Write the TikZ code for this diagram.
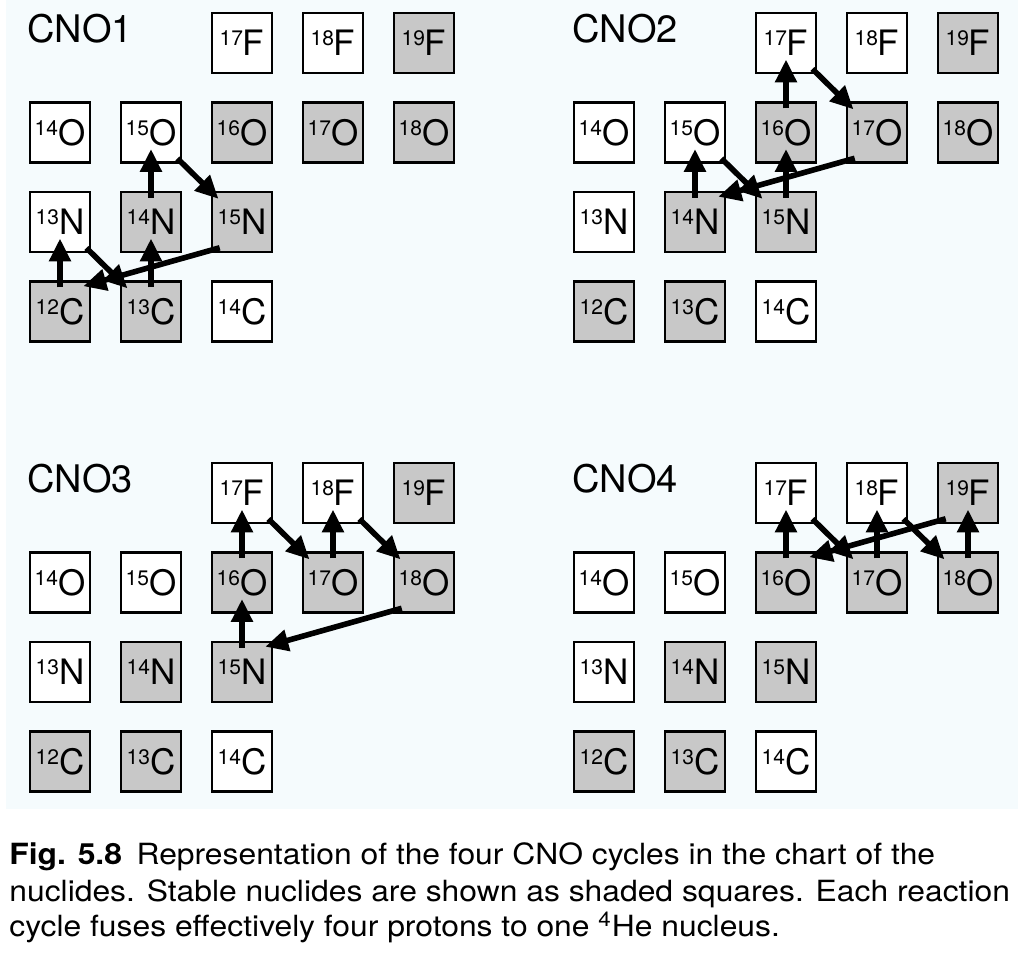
\documentclass[tikz,border=0pt]{standalone}
\usepackage{fontspec}
\setmainfont{TeX Gyre Heros}
\newfontfamily\capfont[FakeStretch=1.09]{TeX Gyre Heros}
\usetikzlibrary{arrows.meta}
\definecolor{chartbg}{HTML}{F5FBFD}
\definecolor{stablegray}{HTML}{C8C8C8}

% mass number raised to the top of the element symbol
\newcommand{\iso}[2]{\raisebox{5pt}{\fontsize{10.5}{10.5}\selectfont #1}#2}

% the fourteen nuclides of one chart, names prefixed by #1
\newcommand{\nuclides}[1]{%
  \foreach \mass/\elem/\col/\row/\kind in {12/C/1/4/stablebox, 13/C/2/4/stablebox, 14/C/3/4/unstablebox,
      13/N/1/3/unstablebox, 14/N/2/3/stablebox, 15/N/3/3/stablebox,
      14/O/1/2/unstablebox, 15/O/2/2/unstablebox, 16/O/3/2/stablebox, 17/O/4/2/stablebox, 18/O/5/2/stablebox,
      17/F/3/1/unstablebox, 18/F/4/1/unstablebox, 19/F/5/1/stablebox}
    \node[\kind] (#1\elem\mass) at ({91*\col-31}, {89.5*\row-46.5}) {\iso{\mass}{\elem}};%
}

\begin{document}
\begin{tikzpicture}[
    x=0.5pt, y=-0.5pt,
    box/.style={draw, line width=1.3pt, minimum size=30pt, inner sep=0pt, font=\fontsize{17.5}{17.5}\selectfont},
    stablebox/.style={box, fill=stablegray},
    unstablebox/.style={box, fill=white},
    title/.style={anchor=base west, inner sep=0pt, font=\fontsize{19}{19}\selectfont},
    react/.style={line width=2.8pt, -{Triangle[length=11.5pt, width=10.5pt]}},
    capture/.style={react, shorten <=12pt, shorten >=8.25pt},
    betadecay/.style={react, shorten <=18.5pt, shorten >=16.5pt},
    alphaout/.style={react},
    caption/.style={anchor=base west, inner sep=0pt, font=\capfont\fontsize{14.6}{18}\selectfont},
]
\useasboundingbox (0,0) rectangle (1034,961);
\fill[chartbg] (6,0) rectangle (1018,809);

% CNO1
\begin{scope}
\nuclides{p1}
\node[title] (t1) at (27,43) {CNO1};
\draw[capture] (p1C12.center) -- (p1N13.center);
\draw[betadecay] (p1N13.center) -- (p1C13.center);
\draw[capture] (p1C13.center) -- (p1N14.center);
\draw[capture] (p1N14.center) -- (p1O15.center);
\draw[betadecay] (p1O15.center) -- (p1N15.center);
\draw[alphaout] ([xshift=4.5pt,yshift=2.75pt]p1N15.south west) -- ([xshift=-4pt,yshift=-3pt]p1C12.north east);
\end{scope}

% CNO2
\begin{scope}[shift={(544,0)}]
\nuclides{p2}
\node[title] (t2) at (28,43) {CNO2};
\draw[capture] (p2N14.center) -- (p2O15.center);
\draw[betadecay] (p2O15.center) -- (p2N15.center);
\draw[capture] (p2N15.center) -- (p2O16.center);
\draw[capture] (p2O16.center) -- (p2F17.center);
\draw[betadecay] (p2F17.center) -- (p2O17.center);
\draw[alphaout] ([xshift=4.5pt,yshift=2.75pt]p2O17.south west) -- ([xshift=-4pt,yshift=-3pt]p2N14.north east);
\end{scope}

% CNO3
\begin{scope}[shift={(0,450)}]
\nuclides{p3}
\node[title] (t3) at (27,43) {CNO3};
\draw[capture] (p3N15.center) -- (p3O16.center);
\draw[capture] (p3O16.center) -- (p3F17.center);
\draw[betadecay] (p3F17.center) -- (p3O17.center);
\draw[capture] (p3O17.center) -- (p3F18.center);
\draw[betadecay] (p3F18.center) -- (p3O18.center);
\draw[alphaout] ([xshift=4.5pt,yshift=2.75pt]p3O18.south west) -- ([xshift=-4pt,yshift=-3pt]p3N15.north east);
\end{scope}

% CNO4
\begin{scope}[shift={(544,450)}]
\nuclides{p4}
\node[title] (t4) at (28,43) {CNO4};
\draw[capture] (p4O16.center) -- (p4F17.center);
\draw[betadecay] (p4F17.center) -- (p4O17.center);
\draw[capture] (p4O17.center) -- (p4F18.center);
\draw[betadecay] (p4F18.center) -- (p4O18.center);
\draw[capture] (p4O18.center) -- (p4F19.center);
\draw[alphaout] ([xshift=4.5pt,yshift=2.75pt]p4F19.south west) -- ([xshift=-4pt,yshift=-3pt]p4O16.north east);
\end{scope}

% caption
\node[caption] (cap1) at (9,865) {\textbf{Fig. 5.8}\hspace{0.5em}Representation of the four CNO cycles in the chart of the};
\node[caption] (cap2) at (9,902) {nuclides. Stable nuclides are shown as shaded squares. Each reaction};
\node[caption] (cap3) at (9,937) {cycle fuses effectively four protons to one \textsuperscript{4}He nucleus.};
\end{tikzpicture}
\end{document}
